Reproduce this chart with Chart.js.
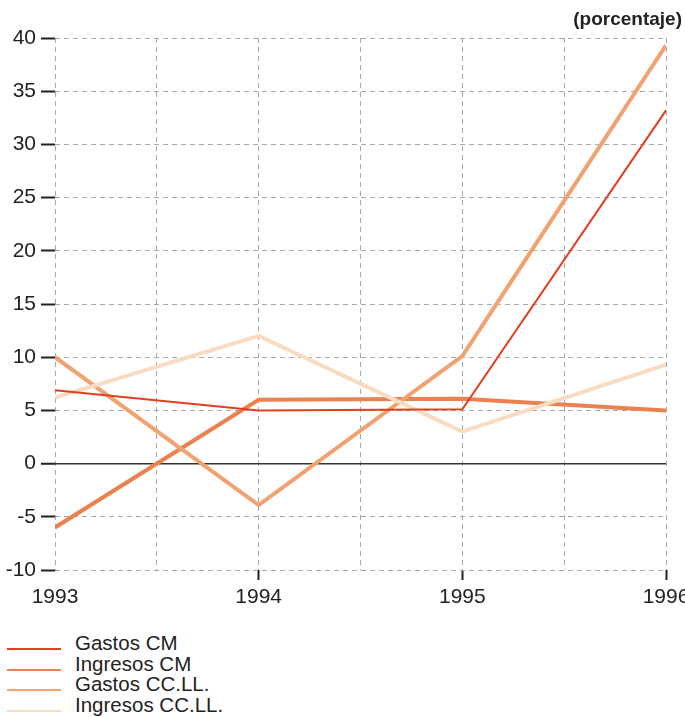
<!DOCTYPE html>
<html>
<head>
<meta charset="utf-8">
<script src="https://cdn.jsdelivr.net/npm/chart.js@4.4.1/dist/chart.umd.min.js"></script>
<style>
  html, body { margin: 0; padding: 0; background: #fff; overflow: hidden; }
  body { width: 685px; height: 717px; position: relative; font-family: "Liberation Sans", Arial, sans-serif; }
  #wrap { position: absolute; left: 0; top: 0; width: 700px; height: 615px; }
  #unit { position: absolute; right: 3px; top: 8px; font-size: 19px; font-weight: bold; color: #222; }
  #legend { position: absolute; left: 7px; top: 639px; }
  .item { height: 20.5px; display: flex; align-items: center; }
  .swatch { width: 54px; margin-right: 14px; }
  .label { font-size: 20.5px; color: #222; line-height: 20px; position: relative; top: -6px; }
</style>
</head>
<body>
<div id="wrap"><canvas id="chart"></canvas></div>
<div id="unit">(porcentaje)</div>
<div id="legend"></div>

<script>
// ===== Data =====
const years = [1993, 1994, 1995, 1996];
const seriesNames = ['Gastos CM', 'Ingresos CM', 'Gastos CC.LL.', 'Ingresos CC.LL.'];
const gastosCM = [6.9, 5.0, 5.1, 33.2];
const ingresosCM = [-6.0, 6.0, 6.1, 5.0];
const gastosCCLL = [10.0, -3.9, 10.1, 39.3];
const ingresosCCLL = [6.2, 12.0, 3.0, 9.3];
const yTicks = [-10, -5, 0, 5, 10, 15, 20, 25, 30, 35, 40];

const colors = ['#e23f1f', '#ec8150', '#f2a271', '#f8dcc1'];
const widths = [2, 4, 4, 4];

function toPoints(values) {
  return values.map((v, i) => ({ x: years[i], y: v }));
}

const allSeries = [gastosCM, ingresosCM, gastosCCLL, ingresosCCLL];

// draw order: light lines first, red on top
const datasets = allSeries.map((vals, i) => ({
  label: seriesNames[i],
  data: toPoints(vals),
  borderColor: colors[i],
  borderWidth: widths[i],
  pointRadius: 0,
  tension: 0,
  order: i === 0 ? 0 : 4 - i
}));

// ===== Chart =====
const ctx = document.getElementById('chart').getContext('2d');
new Chart(ctx, {
  type: 'line',
  data: { datasets: datasets },
  options: {
    responsive: true,
    maintainAspectRatio: false,
    animation: false,
    layout: { padding: { top: 38, right: 34, left: 0, bottom: 0 } },
    plugins: {
      legend: { display: false },
      tooltip: { enabled: false }
    },
    scales: {
      x: {
        type: 'linear',
        min: years[0],
        max: years[years.length - 1],
        afterFit: scale => { scale.height = 45; },
        ticks: {
          stepSize: 0.5,
          autoSkip: false,
          maxRotation: 0,
          padding: 5,
          color: '#222',
          font: { family: 'Liberation Sans', size: 21 },
          callback: v => (v % 1 === 0 ? String(v) : '')
        },
        grid: {
          color: '#a8a8a8',
          lineWidth: 1,
          tickLength: 10,
          tickWidth: 2,
          tickColor: c => (c.tick && c.tick.value % 1 === 0 && c.tick.value > years[0] ? '#222' : 'transparent')
        },
        border: { display: false, dash: [5, 4] }
      },
      y: {
        min: -10,
        max: 40,
        afterFit: scale => { scale.width = 55; },
        afterBuildTicks: scale => { scale.ticks = yTicks.map(v => ({ value: v })); },
        ticks: {
          padding: 5,
          color: '#222',
          font: { family: 'Liberation Sans', size: 21 }
        },
        grid: {
          color: c => (c.tick && c.tick.value === 0 ? '#333' : '#a8a8a8'),
          lineWidth: c => (c.tick && c.tick.value === 0 ? 1.5 : 1),
          tickLength: 14,
          tickWidth: 2,
          tickColor: '#222'
        },
        border: {
          display: false,
          dash: c => (c.tick && c.tick.value === 0 ? [] : [5, 4])
        }
      }
    }
  }
});

// ===== Legend =====
const legend = document.getElementById('legend');
seriesNames.forEach((name, i) => {
  const row = document.createElement('div');
  row.className = 'item';
  row.innerHTML = `<div class="swatch" style="border-top:2px solid ${colors[i]}"></div><span class="label">${name}</span>`;
  legend.appendChild(row);
});
</script>
</body>
</html>
